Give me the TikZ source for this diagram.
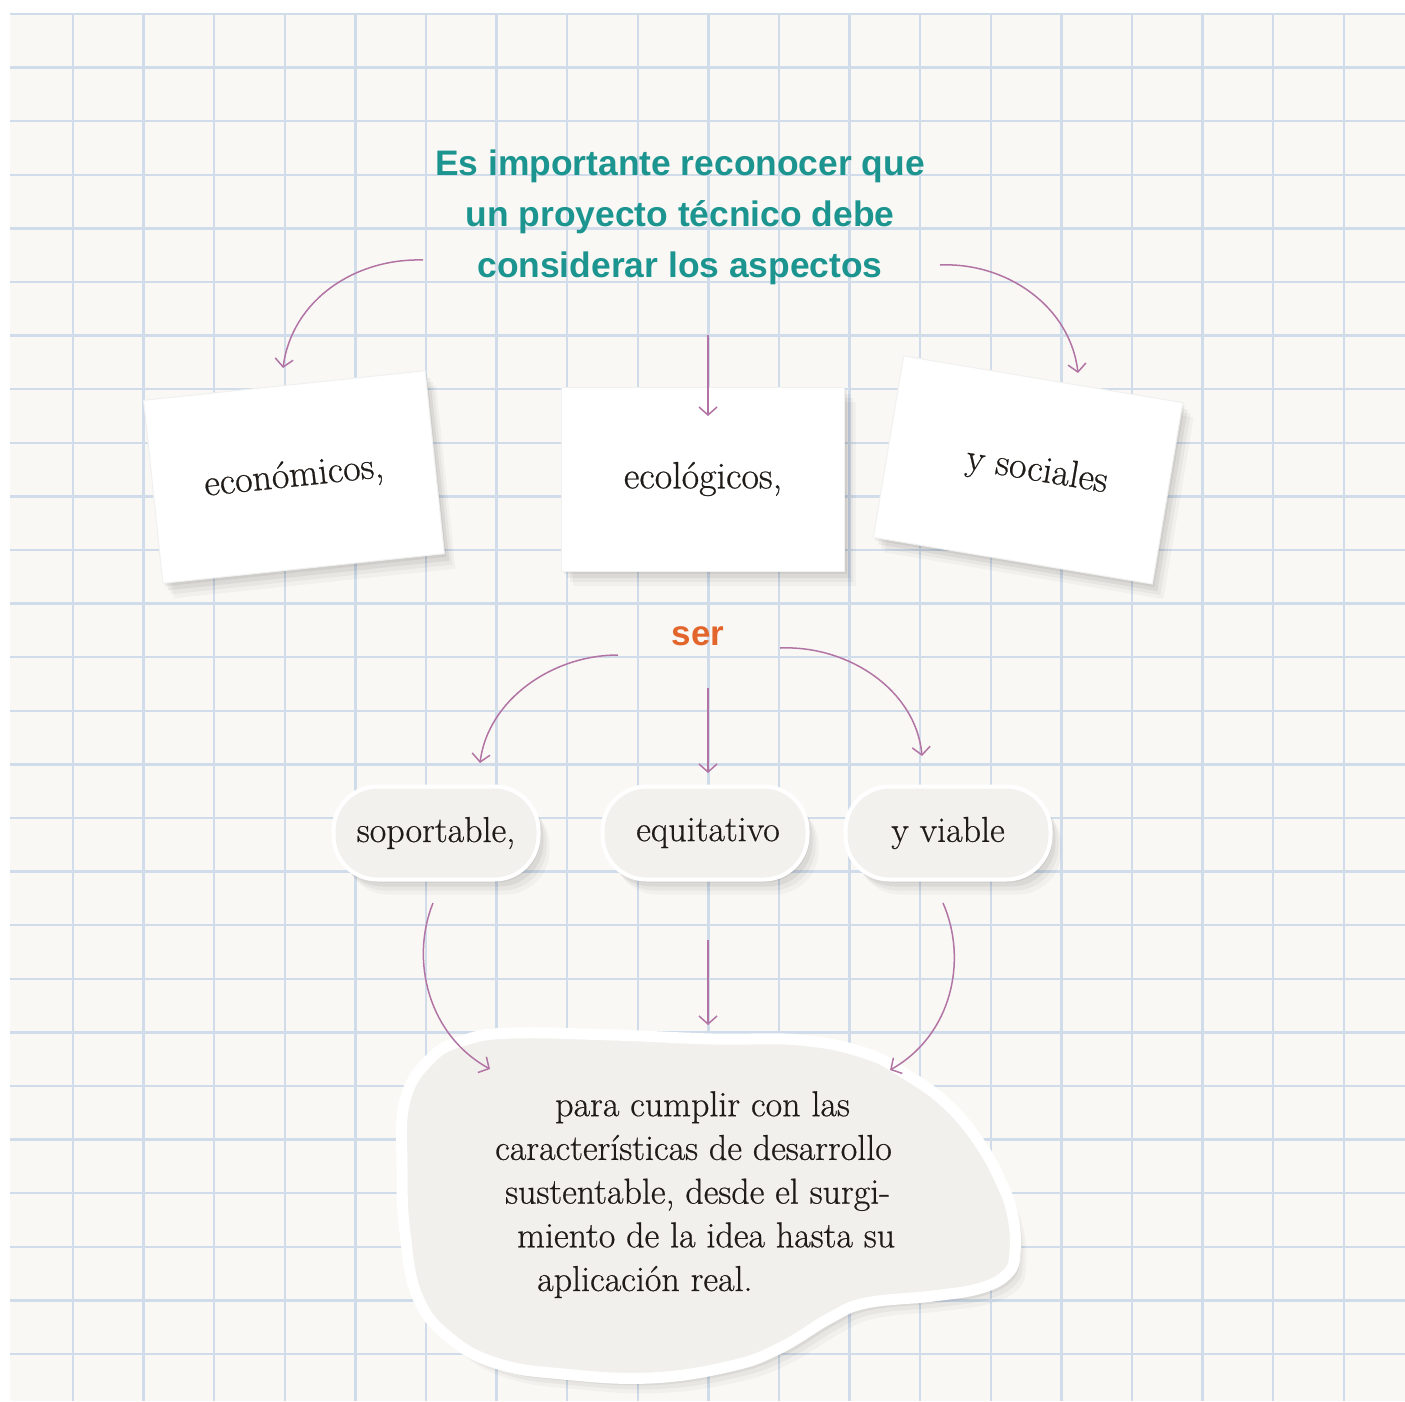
\documentclass[tikz,border=0pt]{standalone}
\usepackage{fontspec}
\newfontfamily\headfont{Liberation Sans}
\newfontfamily\bodyfont{Latin Modern Roman}[FakeBold=0.6]
\usetikzlibrary{arrows.meta,shadows}
\definecolor{paper}{HTML}{FAF8F4}
\definecolor{gridc}{HTML}{D0DCEA}
\definecolor{titlec}{HTML}{1C948F}
\definecolor{serc}{HTML}{E2652B}
\definecolor{arrowc}{HTML}{B274A4}
\definecolor{pillfill}{HTML}{F2F1EE}
\definecolor{blobfill}{HTML}{F2F0EC}
\definecolor{textc}{HTML}{1F1B18}
\tikzset{
  softshadow/.style={
    drop shadow={shadow xshift=2pt, shadow yshift=-3pt, opacity=0.06, fill=black},
    drop shadow={shadow xshift=5pt, shadow yshift=-7pt, opacity=0.05, fill=black},
    drop shadow={shadow xshift=8pt, shadow yshift=-11pt, opacity=0.04, fill=black},
    drop shadow={shadow xshift=11pt, shadow yshift=-15pt, opacity=0.03, fill=black}},
  gridline/.style={draw=gridc, line width=2.4pt},
  titlestyle/.style={font=\headfont\bfseries\fontsize{35.4}{51}\selectfont, text=titlec, align=center, inner sep=0pt},
  serstyle/.style={font=\headfont\bfseries\fontsize{35}{40}\selectfont, text=serc, inner sep=0pt},
  card/.style={fill=white, draw=black!6, line width=1pt, softshadow, minimum width=283pt, minimum height=184pt,
    inner sep=0pt, font=\bodyfont\fontsize{38}{44}\selectfont, text=textc},
  pill/.style={fill=pillfill, draw=white, line width=4pt, softshadow, rounded corners=44pt,
    minimum width=205pt, minimum height=93pt, inner sep=0pt, font=\bodyfont\fontsize{36}{42}\selectfont, text=textc},
  blobstyle/.style={fill=blobfill, draw=white, line width=11pt, softshadow},
  blobtext/.style={font=\bodyfont\fontsize{36}{43.7}\selectfont, text=textc, align=left, inner sep=0pt},
  conn/.style={draw=arrowc, line width=1.5pt, -{Straight Barb[length=8pt,width=18pt]}}
}
\begin{document}
\begin{tikzpicture}[x=1pt,y=-1pt]
\useasboundingbox (0,0) rectangle (1405,1401);
\fill[white] (0,0) rectangle (1405,1401);
\fill[paper] (10,14) rectangle (1405,1401);
\foreach \k in {0,...,18} \draw[gridline] ({73+70.6*\k},14) -- ({73+70.6*\k},1401);
\foreach \k in {0,...,25} \draw[gridline] (10,{14+53.6*\k}) -- (1405,{14+53.6*\k});

% title
\node[titlestyle, anchor=north] (title) at (680,150) {Es importante reconocer que\\un proyecto técnico debe\\considerar los aspectos};

% cards
\node[card, rotate=6] (eco) at (294,477) {económicos,};
\node[card] (ecol) at (703,479) {ecológicos,};
\node[card, rotate=-9.5] (soc) at (1028,470) {\raisebox{5pt}{\hspace*{18pt}y sociales}};

% arrows title -> cards
\coordinate (t1s) at (423,260); \coordinate (t1e) at (283,368);
\coordinate (t2s) at (708,335); \coordinate (t2e) at (708,416);
\coordinate (t3s) at (940,265); \coordinate (t3e) at (1078,373);
\draw[conn] (t1s) .. controls (355,258) and (292,300) .. (t1e);
\draw[conn] (t2s) -- (t2e);
\draw[conn] (t3s) .. controls (1005,262) and (1070,305) .. (t3e);

% ser
\node[serstyle, anchor=base] (ser) at (698,645) {ser};

% pills
\node[pill] (sop) at (436,833) {soportable,};
\node[pill] (equ) at (705,833) {\raisebox{-4pt}{\hspace*{6pt}equitativo}};
\node[pill] (via) at (948,833) {y viable};

\coordinate (s1s) at (618,655); \coordinate (s1e) at (480,763);
\coordinate (s2s) at (708,688); \coordinate (s2e) at (708,773);
\coordinate (s3s) at (780,648); \coordinate (s3e) at (922,756);
\draw[conn] (s1s) .. controls (552,655) and (488,700) .. (s1e);
\draw[conn] (s2s) -- (s2e);
\draw[conn] (s3s) .. controls (848,645) and (916,690) .. (s3e);

% blob
\path[blobstyle] plot[smooth cycle, tension=0.7] coordinates {
 (431,1058) (465,1040) (513,1033) (613,1035) (713,1039) (800,1040) (865,1053) (904,1073)
 (946,1103) (979,1142) (1002,1184) (1013,1217) (1015,1252) (1008,1273) (981,1288) (933,1296)
 (866,1303) (830,1318) (780,1348) (731,1366) (650,1378) (563,1374) (499,1364) (451,1339)
 (418,1298) (405,1233) (402,1167) (405,1100)};
\node[blobtext, anchor=north west] (final) at (495,1091) {\hspace*{60pt}para cumplir con las\\características de desarrollo\\\hspace*{10pt}sustentable, desde el surgi-\\\hspace*{22pt}miento de la idea hasta su\\\hspace*{42pt}aplicación real.};

\coordinate (b1s) at (433,903); \coordinate (b1e) at (490,1069);
\coordinate (b2s) at (708,940); \coordinate (b2e) at (708,1025);
\coordinate (b3s) at (943,903); \coordinate (b3e) at (890,1070);
\draw[conn] (b1s) .. controls (410,960) and (428,1035) .. (b1e);
\draw[conn] (b2s) -- (b2e);
\draw[conn] (b3s) .. controls (968,960) and (952,1035) .. (b3e);
\end{tikzpicture}
\end{document}
